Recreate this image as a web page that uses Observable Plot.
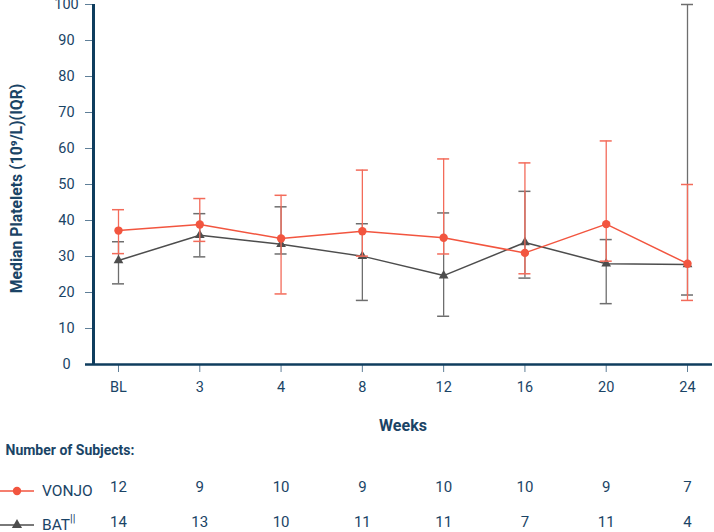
<!DOCTYPE html>
<html>
<head>
<meta charset="utf-8">
<script src="https://cdn.jsdelivr.net/npm/d3@7"></script>
<script src="https://cdn.jsdelivr.net/npm/@observablehq/plot@0.6"></script>
<style>
  html, body { margin: 0; padding: 0; background: #fff; }
  #chart { width: 714px; height: 532px; overflow: hidden; }
  svg { font-family: Roboto, "Noto Sans", sans-serif; }
</style>
</head>
<body>
<div id="chart"></div>
<script>
// ---- data ----
const weeks = ["BL", "3", "4", "8", "12", "16", "20", "24"];

const vonjoMedian = [37.2, 38.9, 35.0, 37.0, 35.2, 31.0, 39.0, 28.0];
const vonjoQ1     = [30.8, 34.2, 19.6, 30.1, 30.7, 25.2, 28.7, 17.8];
const vonjoQ3     = [43.0, 46.1, 47.0, 54.0, 57.1, 56.0, 62.1, 50.0];

const batMedian = [28.9, 35.9, 33.4, 30.1, 24.7, 33.9, 28.0, 27.8];
const batQ1     = [22.4, 29.9, 30.7, 17.8, 13.4, 24.0, 16.9, 19.3];
const batQ3     = [34.1, 41.9, 43.8, 39.1, 42.1, 48.1, 34.7, 100.0];

const vonjoN = [12, 9, 10, 9, 10, 10, 9, 7];
const batN   = [14, 13, 10, 11, 11, 7, 11, 4];

const yTicks = [0, 10, 20, 30, 40, 50, 60, 70, 80, 90, 100];

// ---- styles ----
const navy = "#0f3d5e";
const textColor = "#1a4466";
const red = "#f2553f";
const redBar = "#f36b5a";
const gray = "#4d4d4d";
const grayBar = "#6e6e6e";

const vonjo = weeks.map((w, i) => ({i, week: w, m: vonjoMedian[i], lo: vonjoQ1[i], hi: vonjoQ3[i], n: vonjoN[i]}));
const bat = weeks.map((w, i) => ({i, week: w, m: batMedian[i], lo: batQ1[i], hi: batQ3[i], n: batN[i]}));

const xDomain = [-0.3075, weeks.length - 1 + 0.3075];
const cap = 0.074;

function errorBars(data, color) {
  return [
    Plot.ruleX(data, {x: "i", y1: "lo", y2: "hi", stroke: color, strokeWidth: 1.3}),
    Plot.ruleY(data, {y: "lo", x1: d => d.i - cap, x2: d => d.i + cap, stroke: color, strokeWidth: 1.5}),
    Plot.ruleY(data, {y: "hi", x1: d => d.i - cap, x2: d => d.i + cap, stroke: color, strokeWidth: 1.5})
  ];
}

const chart = Plot.plot({
  width: 714,
  height: 532,
  marginTop: 4,
  marginBottom: 168,
  marginLeft: 93,
  marginRight: 2,
  style: {fontFamily: "Roboto, 'Noto Sans', sans-serif", color: textColor, background: "#fff", overflow: "visible"},
  x: {type: "linear", domain: xDomain, axis: null},
  y: {domain: [0, 100], axis: null},
  marks: [
    // axes
    Plot.axisY({ticks: yTicks, tickSize: 8, tickPadding: 19, textAnchor: "middle", fontSize: 14.5, stroke: "#5f7f98", fill: textColor, label: null}),
    Plot.axisX({ticks: weeks.map((w, i) => i), tickFormat: i => weeks[i], tickSize: 8, tickPadding: 9, fontSize: 14.5, stroke: "#5f7f98", fill: textColor, label: null}),
    Plot.ruleY([0], {stroke: navy, strokeWidth: 2.6, insetLeft: -8}),
    Plot.ruleX([xDomain[0]], {stroke: navy, strokeWidth: 3}),

    // BAT
    ...errorBars(bat, grayBar),
    Plot.line(bat, {x: "i", y: "m", stroke: gray, strokeWidth: 1.5}),
    Plot.dot(bat, {x: "i", y: "m", symbol: "triangle", r: 3.6, fill: gray}),

    // VONJO
    ...errorBars(vonjo, redBar),
    Plot.line(vonjo, {x: "i", y: "m", stroke: red, strokeWidth: 1.5}),
    Plot.dot(vonjo, {x: "i", y: "m", r: 4.2, fill: red}),

    // axis titles
    Plot.text(["Median Platelets (10⁹/L)(IQR)"], {frameAnchor: "left", textAnchor: "middle", rotate: -90, dx: -77, dy: 4, fontSize: 15.8, fontWeight: "bold", fill: textColor}),
    Plot.text(["Weeks"], {frameAnchor: "bottom", dy: 66, fontSize: 16, fontWeight: "bold", fill: textColor}),

    // number of subjects
    Plot.text(["Number of Subjects:"], {frameAnchor: "bottom-left", textAnchor: "start", dx: -88, dy: 90, fontSize: 14, fontWeight: "bold", fill: textColor}),
    Plot.text(vonjo, {x: "i", text: "n", frameAnchor: "bottom", dy: 127, fontSize: 15, fill: textColor}),
    Plot.text(bat, {x: "i", text: "n", frameAnchor: "bottom", dy: 162, fontSize: 15, fill: textColor})
  ]
});

// legend swatches inside the subjects table
const svg = d3.select(chart);
const legend = [
  {label: "VONJO", sup: "", color: red, symbol: "circle", y: 491},
  {label: "BAT", sup: "||", color: gray, symbol: "triangle", y: 525}
];
for (const L of legend) {
  const g = svg.append("g");
  g.append("line").attr("x1", 0).attr("x2", 34).attr("y1", L.y).attr("y2", L.y)
    .attr("stroke", L.color).attr("stroke-width", 1.5);
  if (L.symbol === "circle") {
    g.append("circle").attr("cx", 17).attr("cy", L.y).attr("r", 4.2).attr("fill", L.color);
  } else {
    g.append("path").attr("d", d3.symbol(d3.symbolTriangle, 45)()).attr("transform", `translate(17,${L.y})`).attr("fill", L.color);
  }
  const t = g.append("text").attr("x", 42).attr("y", L.y).attr("dy", "0.35em")
    .attr("text-anchor", "start")
    .attr("font-size", 15.5).attr("fill", textColor).text(L.label);
  if (L.sup) {
    t.append("tspan").attr("font-size", 11).attr("dy", "-0.8em").text(L.sup);
  }
}

document.getElementById("chart").appendChild(chart);
</script>
</body>
</html>
